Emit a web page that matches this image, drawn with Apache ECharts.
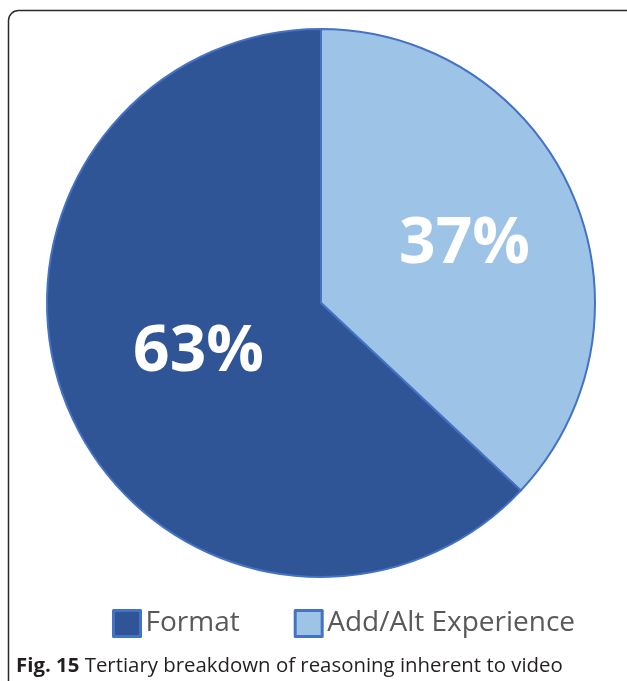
<!DOCTYPE html>
<html>
<head>
<meta charset="utf-8">
<style>
  html, body { margin: 0; padding: 0; background: #ffffff; }
  #chart { width: 627px; height: 681px; }
</style>
<script src="https://cdn.jsdelivr.net/npm/echarts@6/dist/echarts.min.js"></script>
</head>
<body>
<div id="chart"></div>
<script>
// Shares of reasoning, in drawing order (clockwise from 12 o'clock)
const categories = ['Add/Alt Experience', 'Format'];
const shares = [37, 63];
const sliceColors = ['#9DC3E6', '#2F5597'];
// Legend lists Format first
const legendOrder = ['Format', 'Add/Alt Experience'];
// Nudges for the in-slice percentage labels
const labelOffsets = [[15, -3], [6, -6]];
const captionBold = 'Fig. 15';
const captionText = 'Tertiary breakdown of reasoning inherent to video';

const chart = echarts.init(document.getElementById('chart'), null, { renderer: 'canvas' });

const pieData = categories.map((name, i) => ({
  name: name,
  value: shares[i],
  itemStyle: { color: sliceColors[i] },
  label: { offset: labelOffsets[i] }
}));

chart.setOption({
  backgroundColor: '#ffffff',
  animation: false,
  legend: {
    data: legendOrder,
    left: 112,
    top: 609,
    padding: 0,
    orient: 'horizontal',
    icon: 'rect',
    itemWidth: 27,
    itemHeight: 26,
    itemGap: 54,
    itemStyle: { borderColor: '#4472C4', borderWidth: 3 },
    textStyle: {
      fontFamily: 'Open Sans',
      fontSize: 28,
      color: '#595959',
      padding: [0, 0, 0, 0]
    }
  },
  series: [{
    type: 'pie',
    center: [321, 303],
    radius: 274,
    startAngle: 90,
    clockwise: true,
    silent: true,
    itemStyle: { borderColor: '#4472C4', borderWidth: 2 },
    label: {
      show: true,
      position: 'inside',
      formatter: '{d}%',
      fontFamily: 'Open Sans',
      fontWeight: 'bold',
      fontSize: 64,
      color: '#ffffff'
    },
    labelLine: { show: false },
    data: pieData
  }],
  graphic: [
    {
      type: 'rect',
      shape: { x: 8.5, y: 10.5, width: 650, height: 700, r: 10 },
      style: { fill: 'none', stroke: '#2b2b2b', lineWidth: 1.5 },
      silent: true
    },
    {
      type: 'text',
      left: 16,
      top: 656,
      style: {
        text: '{b|' + captionBold + '} ' + captionText,
        fontFamily: 'Open Sans',
        fontSize: 20.4,
        fill: '#231f20',
        rich: {
          b: { fontFamily: 'Open Sans', fontSize: 20.4, fontWeight: 'bold', fill: '#231f20' }
        }
      },
      silent: true
    }
  ]
});
</script>
</body>
</html>
